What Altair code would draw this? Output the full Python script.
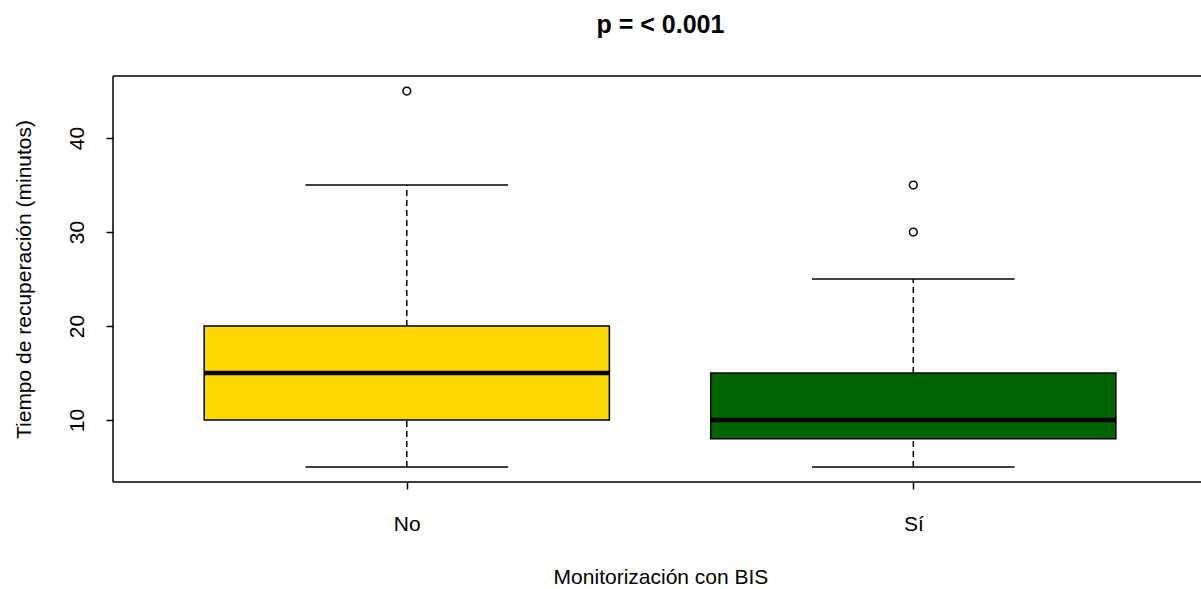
import altair as alt
import pandas as pd

# Recovery time (minutes) by BIS monitoring: five-number summaries and outliers
grupos = ["No", "Sí"]
colores = ["#FFD700", "#006400"]
minimo = [5, 5]
q1 = [10, 8]
mediana = [15, 10]
q3 = [20, 15]
maximo = [35, 25]

atipicos_grupo = ["No", "Sí", "Sí"]
atipicos_valor = [45, 35, 30]

etiquetas_y = [10, 20, 30, 40]

ANCHO, ALTO = 1088, 406
FUENTE = "Liberation Sans"

cajas = pd.DataFrame({
    "grupo": grupos,
    "pos": list(range(1, len(grupos) + 1)),
    "minimo": minimo,
    "q1": q1,
    "mediana": mediana,
    "q3": q3,
    "maximo": maximo,
})
posicion = {g: i + 1 for i, g in enumerate(grupos)}
atipicos = pd.DataFrame({
    "grupo": atipicos_grupo,
    "pos": [posicion[g] for g in atipicos_grupo],
    "valor": atipicos_valor,
})

escala_x = alt.Scale(domain=[0.42, 2.568], nice=False, zero=False)
escala_y = alt.Scale(domain=[3.4, 46.6], nice=False, zero=False)
escala_color = alt.Scale(domain=grupos, range=colores)

expr_etiquetas = "[" + ",".join(f"'{g}'" for g in grupos) + "][datum.value - 1]"

eje_x = alt.Axis(
    values=[1, 2], labelExpr=expr_etiquetas, title="Monitorización con BIS",
    tickSize=7, tickWidth=1.5, tickColor="black", labelPadding=41,
    labelBaseline="alphabetic", labelFontSize=21, labelColor="black",
    labelFlush=False, labelOverlap=False, domain=False, grid=False,
    titleX=547.5, titleY=101, titleBaseline="alphabetic", titleAlign="center",
    titleFontSize=21, titleFontWeight="normal", titleColor="black",
)
eje_y = alt.Axis(
    values=etiquetas_y, title="Tiempo de recuperación (minutos)",
    tickSize=7, tickWidth=1.5, tickColor="black", labelPadding=23,
    labelAngle=270, labelAlign="center", labelBaseline="alphabetic",
    labelFontSize=21, labelColor="black", domain=False, grid=False,
    titleAngle=270, titleX=-83, titleY=203, titleAlign="center",
    titleBaseline="alphabetic", titleFontSize=21, titleFontWeight="normal",
    titleColor="black",
)


def eje_x_campo(campo):
    return alt.X(campo, scale=escala_x, axis=eje_x)


def eje_y_campo(campo):
    return alt.Y(campo, scale=escala_y, axis=eje_y)


base = alt.Chart(cajas).transform_calculate(
    x_izq="datum.pos - 0.4",
    x_der="datum.pos + 0.4",
    cap_izq="datum.pos - 0.2",
    cap_der="datum.pos + 0.2",
)

# Dashed whiskers
bigote_sup = base.mark_rule(color="black", strokeWidth=1.5, strokeDash=[6, 4]).encode(
    x=eje_x_campo("pos:Q"), y=eje_y_campo("q3:Q"), y2="maximo:Q",
)
bigote_inf = base.mark_rule(color="black", strokeWidth=1.5, strokeDash=[6, 4]).encode(
    x=eje_x_campo("pos:Q"), y=eje_y_campo("minimo:Q"), y2="q1:Q",
)

# Whisker caps
tope_sup = base.mark_rule(color="black", strokeWidth=1.5).encode(
    x=eje_x_campo("cap_izq:Q"), x2="cap_der:Q", y=eje_y_campo("maximo:Q"),
)
tope_inf = base.mark_rule(color="black", strokeWidth=1.5).encode(
    x=eje_x_campo("cap_izq:Q"), x2="cap_der:Q", y=eje_y_campo("minimo:Q"),
)

# Boxes
caja = base.mark_rect(stroke="black", strokeWidth=1.5).encode(
    x=eje_x_campo("x_izq:Q"), x2="x_der:Q",
    y=eje_y_campo("q1:Q"), y2="q3:Q",
    color=alt.Color("grupo:N", scale=escala_color, legend=None),
)

# Medians
linea_mediana = base.mark_rule(color="black", strokeWidth=4.5).encode(
    x=eje_x_campo("x_izq:Q"), x2="x_der:Q", y=eje_y_campo("mediana:Q"),
)

# Outliers as open circles
puntos = alt.Chart(atipicos).mark_point(
    shape="circle", filled=False, color="black", size=60, strokeWidth=1.5, opacity=1
).encode(
    x=eje_x_campo("pos:Q"), y=eje_y_campo("valor:Q"),
)

# Plot frame (top, bottom, left)
marco_df = pd.DataFrame({"lado": [0]})
marco_sup = alt.Chart(marco_df).mark_rule(color="black", strokeWidth=1.5).encode(
    x=alt.value(0), x2=alt.value(ANCHO), y=alt.value(0)
)
marco_inf = alt.Chart(marco_df).mark_rule(color="black", strokeWidth=1.5).encode(
    x=alt.value(0), x2=alt.value(ANCHO), y=alt.value(ALTO)
)
marco_izq = alt.Chart(marco_df).mark_rule(color="black", strokeWidth=1.5).encode(
    x=alt.value(0), y=alt.value(0), y2=alt.value(ALTO)
)

chart = alt.layer(
    caja, bigote_sup, bigote_inf, tope_sup, tope_inf, linea_mediana, puntos,
    marco_sup, marco_inf, marco_izq,
).properties(
    width=ANCHO,
    height=ALTO,
    title=alt.Title(
        "p = < 0.001", fontSize=25, fontWeight="bold", font=FUENTE, color="black",
        anchor="middle", frame="group", offset=17, baseline="alphabetic", dx=3.5,
    ),
    autosize=alt.AutoSizeParams(type="none"),
    padding={"left": 113, "top": 76, "right": 0, "bottom": 107},
    background="white",
).configure_view(
    stroke=None
).configure_axis(
    labelFont=FUENTE, titleFont=FUENTE
)

chart.save("out.html", embed_options={"renderer": "svg", "actions": False})
